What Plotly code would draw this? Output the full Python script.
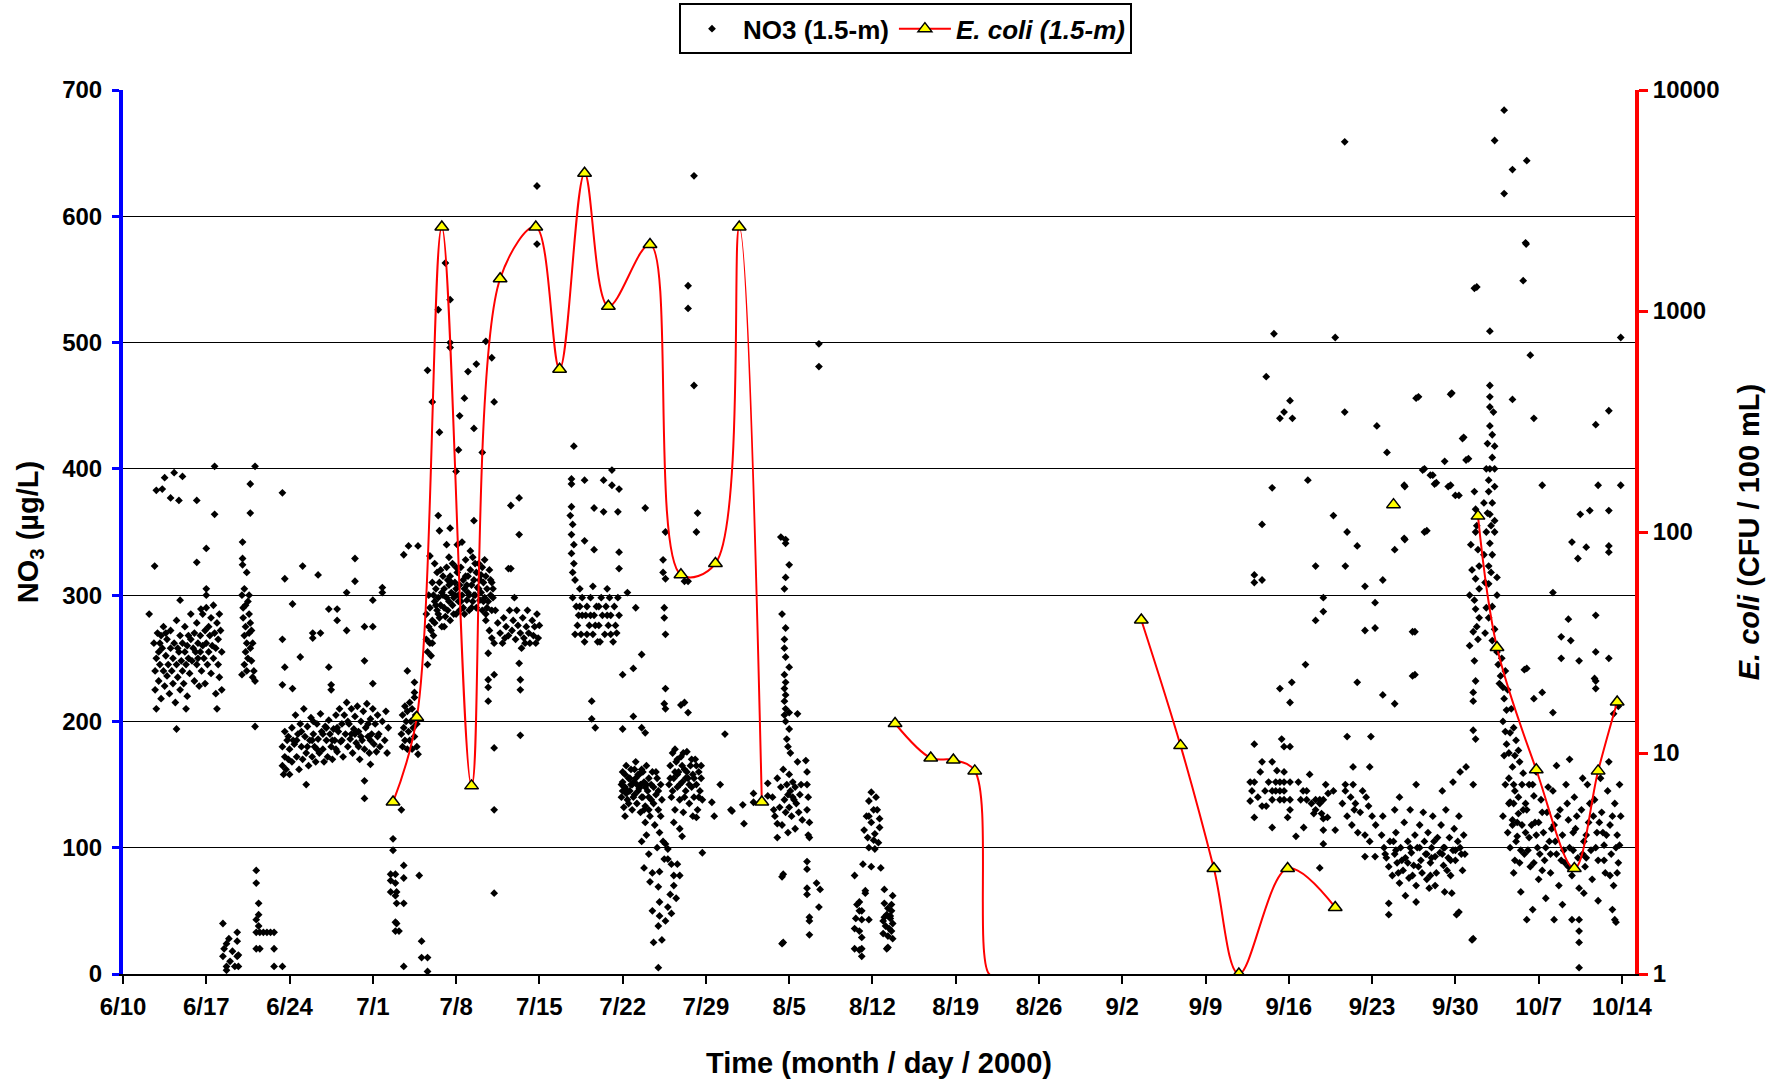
import plotly.graph_objects as go

# ---------------- DATA ----------------
# x = days since 6/10/2000, y = NO3 (ug/L)
tick_days = [0, 7, 14, 21, 28, 35, 42, 49, 56, 63, 70, 77, 84, 91, 98, 105, 112, 119, 126]
tick_labels = ["6/10", "6/17", "6/24", "7/1", "7/8", "7/15", "7/22", "7/29", "8/5", "8/12",
               "8/19", "8/26", "9/2", "9/9", "9/16", "9/23", "9/30", "10/7", "10/14"]

no3_june = [
    (2.6,262),(2.7,240),(2.7,225),(2.8,250),(2.8,210),(2.9,270),(3.0,255),(3.0,232),(3.1,245),(3.2,268),
    (3.2,218),(3.3,258),(3.4,240),(3.4,275),(3.5,228),(3.6,252),(3.7,265),(3.7,236),(3.8,245),(3.9,222),
    (4.0,258),(4.0,272),(4.1,240),(4.2,230),(4.2,250),(4.3,262),(4.4,215),(4.5,245),(4.5,280),(4.6,235),
    (4.7,255),(4.8,268),(4.8,225),(4.9,248),(5.0,240),(5.0,262),(5.1,230),(5.2,255),(5.2,275),(5.3,245),
    (5.4,220),(5.4,260),(5.5,250),(5.6,238),(5.7,265),(5.7,285),(5.8,248),(5.9,258),(6.0,270),(6.0,232),
    (6.1,255),(6.2,245),(6.2,278),(6.3,262),(6.4,228),(6.5,255),(6.5,268),(6.6,240),(6.7,285),(6.7,260),
    (6.8,250),(6.9,272),(6.9,230),(7.0,262),(7.0,290),(7.1,245),(7.2,275),(7.2,255),(7.3,268),(7.4,238),
    (7.4,282),(7.5,260),(7.6,250),(7.6,292),(7.7,270),(7.8,222),(7.8,258),(7.9,278),(8.0,245),(8.0,265),
    (8.1,285),(8.1,235),(8.2,272),(8.3,255),(8.3,225),(3.1,262),(3.6,270),(4.6,258),(5.5,268),(6.3,250),
    (2.2,285),(4.5,194),(5.3,210),(7.9,210),(4.8,296),(7.0,305),(7.0,300),(6.55,289),
    (2.66,323),(2.8,383),(3.3,384),(3.5,393),(4.0,377),(4.3,397),(4.7,375),(5.0,394),(6.2,375),
    (6.2,326),(7.0,337),(7.7,402),(7.7,364),
    # 6/20 column
    (10.0,300),(10.1,290),(10.2,305),(10.1,282),(10.3,275),(10.2,268),(10.4,262),(10.3,255),(10.5,250),
    (10.2,245),(10.4,240),(10.6,285),(10.6,270),(10.7,258),(10.5,295),(10.8,248),(10.9,262),(10.7,278),
    (11.0,240),(10.9,235),(11.1,232),(10.0,237),(11.1,196),(10.3,292),(10.6,300),(10.8,272),
    (10.7,388),(11.1,402),(10.7,365),(10.05,342),(10.05,329),(10.05,324),(10.4,318),
    # lows
    (8.4,40),(9.6,33),(8.7,24),(9.6,26),(8.5,20),(9.2,18),(8.4,14),(9.6,14),(8.7,6),(9.4,6),(9.7,6),
    (8.7,3),(9.7,15),(8.9,28),(9.0,10),
    (11.2,82),(11.2,72),(11.4,56),(11.4,47),(11.2,43),(11.4,38),(11.2,33),(11.5,33),(11.8,33),(12.1,33),
    (12.4,33),(12.7,33),(11.2,20),(11.5,20),(12.7,20),(12.7,6),(13.4,6),
]

no3_late_june = [
    (13.4,165),(13.4,180),(13.5,158),(13.6,172),(13.6,192),(13.7,162),(13.8,185),(13.9,170),(14.0,158),
    (14.0,178),(14.2,195),(14.2,168),(14.4,182),(14.5,205),(14.6,172),(14.7,190),(14.8,162),(14.9,198),
    (15.0,180),(15.1,170),(15.2,210),(15.3,188),(15.4,175),(15.5,196),(15.6,165),(15.7,185),(15.8,203),
    (15.9,172),(16.0,190),(16.1,180),(16.2,168),(16.3,198),(16.4,186),(16.5,175),(16.6,206),(16.7,192),
    (16.8,178),(16.9,168),(17.0,196),(17.1,185),(17.2,172),(17.3,201),(17.4,190),(17.5,180),(17.6,170),
    (17.7,194),(17.8,185),(17.9,205),(18.0,176),(18.1,192),(18.2,210),(18.3,184),(18.4,198),(18.5,172),
    (18.6,205),(18.7,190),(18.8,215),(18.9,180),(19.0,198),(19.1,186),(19.2,210),(19.3,175),(19.4,194),
    (19.5,204),(19.6,183),(19.7,212),(19.8,192),(19.9,170),(20.0,200),(20.1,185),(20.2,208),(20.3,178),
    (20.4,195),(20.5,214),(20.6,188),(20.7,175),(20.8,202),(20.9,190),(21.0,210),(21.1,182),(21.2,198),
    (21.3,176),(21.4,205),(21.5,190),(21.6,180),(21.8,200),(22.0,185),(22.1,208),(22.2,175),(22.3,195),
    (14.3,185),(15.0,192),(15.9,185),(16.8,190),(17.6,185),(18.4,185),(19.2,190),(20.0,188),(20.8,185),
    (14.6,185),(15.5,180),(16.3,178),(17.1,195),(18.0,195),(18.9,200),(19.8,180),(20.6,198),(21.4,188),
    (13.9,188),(16.0,200),(17.9,178),(19.5,190),
    (15.4,150),(20.3,139),(20.3,153),(20.8,166),(13.4,381),(13.6,313),(13.4,265),(14.25,293),(15.1,323),
    (16.4,316),(14.9,251),(13.6,243),(13.4,229),(14.25,226),(15.95,270),(15.95,266),(16.6,270),(17.3,289),
    (18.0,289),(18.0,280),(18.8,302),(19.5,329),(19.5,311),(18.8,272),(17.3,243),(17.5,229),(17.5,225),
    (20.3,275),(21.0,275),(21.0,296),(20.3,248),(21.0,230),(21.8,306),(21.8,302),
]

no3_early_july = [
    (23.4,190),(23.5,205),(23.5,180),(23.6,195),(23.7,212),(23.7,185),(23.8,200),(23.9,178),(23.9,208),
    (24.0,192),(24.1,215),(24.1,185),(24.2,200),(24.3,178),(24.3,210),(24.4,195),(24.5,188),(24.6,205),
    (24.7,180),(24.7,198),(23.9,240),(24.5,231),(24.5,223),(24.5,219),(24.8,174),(23.6,332),(24.0,339),
    (24.8,339),
    (22.7,107),(22.7,98),(22.5,79),(22.9,79),(22.5,74),(22.9,72),(23.0,65),(22.5,65),(22.9,62),(23.0,56),
    (23.6,86),(23.6,76),(23.6,56),(22.9,41),(23.0,40),(22.9,34),(23.2,34),(23.6,6),(24.9,78),(25.1,26),
    (25.1,13),(25.6,13),(25.6,2),
    # 7/5 - 7/9 cluster
    (25.5,265),(25.5,285),(25.6,255),(25.7,275),(25.7,300),(25.8,262),(25.8,290),(25.9,252),(26.0,280),
    (26.0,310),(26.1,268),(26.2,295),(26.2,278),(26.3,305),(26.4,288),(26.4,318),(26.5,298),(26.6,282),
    (26.6,310),(26.7,292),(26.8,302),(26.8,275),(26.9,315),(27.0,290),(27.0,305),(27.1,283),(27.2,298),
    (27.2,322),(27.3,288),(27.4,308),(27.4,295),(27.5,280),(27.5,315),(27.6,302),(27.7,292),(27.7,325),
    (27.8,298),(27.9,310),(28.0,285),(28.0,305),(28.1,318),(28.2,295),(28.3,308),(28.3,288),(28.4,322),
    (28.5,300),(28.6,312),(28.6,290),(28.7,305),(28.8,328),(28.9,296),(29.0,315),(29.0,302),(29.1,288),
    (29.2,320),(29.3,308),(29.4,295),(29.4,330),(29.5,312),(29.6,300),(29.7,318),(29.7,290),(29.8,306),
    (29.9,325),(30.0,296),(30.0,312),(30.1,302),(30.2,288),(30.2,322),(30.3,310),(30.4,298),(30.5,315),
    (30.5,285),(30.6,305),(30.7,295),(30.8,320),(30.9,300),(31.0,310),(31.0,288),(31.1,298),
    (26.3,292),(26.9,300),(27.6,310),(28.2,300),(28.9,308),(29.5,300),(30.1,316),(26.0,262),(25.6,245),
    (25.9,272),(26.1,300),(26.5,285),(26.7,320),(27.0,275),(27.3,312),(27.8,285),(28.0,322),(28.4,295),
    (28.7,285),(29.1,300),(29.3,290),(29.6,325),(29.9,305),(30.3,295),(30.6,290),(30.9,312),(31.1,305),
    (27.9,300),(28.8,315),(26.2,325),(29.2,335),(28.1,340),(27.4,330),(30.4,328),
    (25.8,331),(25.6,478),(26.0,453),(26.5,526),(26.6,429),(27.1,563),(27.5,534),(27.5,500),(27.5,496),
    (28.2,415),(28.0,398),(28.3,442),(28.7,456),(29.0,477),(29.7,483),(30.5,501),(29.5,432),(30.2,413),
    (31.0,488),(31.2,453),(26.5,363),(26.6,351),(27.5,353),(27.2,340),(29.5,359),(28.5,342),(32.6,371),
    (33.3,377),(33.3,348),(32.6,321),(32.9,298),(32.4,321),
    # 7/10 - 7/14 rows
    (30.5,280),(30.8,272),(31.0,266),(31.3,288),(31.5,278),(31.7,270),(31.9,262),(32.0,282),(32.2,275),
    (32.4,268),(32.5,288),(32.7,272),(32.8,280),(33.0,265),(33.1,288),(33.2,276),(33.4,270),(33.5,258),
    (33.6,282),(33.7,266),(33.9,275),(34.0,288),(34.1,270),(34.2,262),(34.4,280),(34.5,268),(34.6,275),
    (34.8,285),(34.9,266),(35.0,276),(31.2,262),(32.1,266),(33.8,262),(34.7,262),
    (33.3,246),(33.4,233),(33.4,225),(33.4,189),(30.7,254),(30.7,233),(30.7,227),(30.7,216),(31.2,237),
    (31.2,179),(31.2,130),(31.2,64),(23.4,130),(34.8,624),(34.8,578),
]

no3_late_july = [
    (37.6,363),(37.8,356),(37.7,348),(37.9,340),(37.7,333),(37.9,325),(37.8,318),(38.0,312),
    (37.9,418),(37.7,392),(37.7,388),(38.8,391),(40.4,391),(41.1,399),(41.1,387),(41.7,384),(37.7,370),
    (39.6,369),(40.4,366),(41.6,366),(43.9,369),(41.7,334),(41.7,321),(42.4,302),(43.1,290),(39.6,336),
    (38.8,343),
    (37.8,298),(38.1,291),(38.3,284),(38.2,276),(38.5,269),(38.6,298),(38.8,263),(38.9,284),(39.0,291),
    (39.2,276),(39.3,298),(39.5,269),(39.6,284),(39.8,291),(39.9,263),(40.0,276),(40.2,298),(40.3,284),
    (40.5,269),(40.6,291),(40.8,276),(40.9,298),(41.0,284),(41.2,263),(41.3,291),(41.4,276),(41.6,298),
    (41.7,284),(38.0,269),(39.0,269),(40.1,263),(41.0,269),(38.4,305),(39.5,307),(40.7,305),(41.5,270),
    (38.6,284),(39.3,284),(40.0,291),(40.7,284),(38.4,291),(39.7,276),
    (39.4,216),(39.4,202),(39.7,195),(42.0,237),(42.9,204),(43.6,253),(43.6,195),(43.9,191),(42.0,194),
    (42.9,242),(45.5,290),(45.5,282),(45.6,269),(45.6,226),(45.5,214),(45.6,210),(47.5,311),(47.2,311),
    (46.9,213),(47.2,215),(47.5,207),(48.3,365),(48.2,350),(45.6,350),(45.4,328),(45.4,318),(45.6,313),
    (48.0,632),(47.5,545),(47.5,527),(48.0,466),
    # 7/22 - 7/25 cluster
    (41.9,150),(41.9,140),(42.0,160),(42.1,132),(42.2,148),(42.3,165),(42.4,138),(42.5,155),(42.6,145),
    (42.7,162),(42.8,130),(42.9,152),(43.0,142),(43.1,168),(43.2,135),(43.3,158),(43.4,147),(43.5,128),
    (43.6,162),(43.7,140),(43.8,152),(43.9,133),(44.0,165),(44.1,145),(44.2,155),(44.3,125),(44.4,138),
    (44.5,160),(44.6,148),(44.7,118),(44.8,142),(44.9,155),(45.0,130),(45.1,112),(45.2,150),(45.3,138),
    (45.4,105),(42.6,155),(43.2,150),(43.9,148),(42.3,143),(43.6,140),(42.0,145),(42.8,150),(43.4,158),
    (44.2,140),
    (42.0,152),(42.2,158),(42.4,145),(42.5,135),(42.7,150),(42.9,140),(43.1,155),(43.3,145),(43.5,150),
    (43.7,160),(43.8,130),(44.0,150),(44.2,130),(44.4,150),(44.6,135),(44.8,160),(45.0,145),(45.2,125),
    (43.0,162),(42.2,125),
    (43.8,84),(44.5,80),(45.1,81),(44.3,73),(45.0,69),(45.1,57),(44.5,50),(45.1,46),(45.0,38),(44.6,25),
    (45.3,27),(45.0,5),(45.6,103),(45.8,99),(45.5,91),(45.8,91),(46.1,87),(46.6,87),(46.3,78),(46.8,78),
    (46.3,70),(46.0,63),(45.8,53),(45.6,42),(46.1,48),(46.8,115),(47.0,109),(44.2,95),(44.9,100),
    (46.5,60),(44.0,110),(43.9,120),(43.6,105),
    # 7/26 - 7/29 cluster
    (45.9,150),(46.0,165),(46.1,140),(46.2,175),(46.3,155),(46.4,130),(46.5,168),(46.6,148),(46.7,160),
    (46.8,138),(46.9,172),(47.0,152),(47.1,128),(47.2,162),(47.3,145),(47.4,176),(47.5,155),(47.6,135),
    (47.7,165),(47.8,148),(47.9,158),(48.0,140),(48.1,170),(48.2,150),(48.3,130),(48.4,160),(48.5,145),
    (48.6,155),(48.7,138),(46.4,178),(47.9,125),(48.2,124),(46.6,158),(47.3,155),
    (46.0,155),(46.2,145),(46.4,160),(46.6,170),(46.8,150),(47.0,165),(47.2,140),(47.4,160),(47.6,150),
    (47.8,170),(48.0,155),(48.2,165),(48.4,140),(48.6,165),(47.1,175),(46.3,120),
    (49.5,136),(49.7,125),(50.2,150),(51.1,130),(51.2,129),(52.1,134),(52.2,119),(53.0,143),(53.0,136),
    (54.2,151),(54.2,141),(54.7,130),(55.0,119),(55.0,108),(48.7,96),(50.6,190),(55.4,77),(55.4,24),
]

no3_aug = [
    (54.6,140),(54.8,125),(55.0,155),(55.2,132),(55.3,148),(55.4,118),(55.5,162),(55.6,138),(55.7,128),
    (55.8,150),(55.9,142),(56.0,158),(56.0,132),(56.1,145),(56.2,125),(56.3,152),(56.4,138),(56.5,148),
    (56.5,115),(56.6,135),(56.7,168),(56.8,128),(56.9,142),(57.0,150),(57.1,122),(57.4,169),(57.5,160),
    (57.5,150),(57.6,140),(57.5,130),(57.7,120),(57.6,110),(57.7,108),(56.1,175),(55.9,112),(56.3,140),
    (55.3,346),(55.7,344),(55.7,341),(56.0,324),(55.7,314),(55.6,305),(55.4,285),(55.7,274),(55.6,265),
    (55.6,258),(55.7,251),(56.0,243),(55.6,237),(55.7,231),(55.6,226),(55.7,221),(55.6,216),(55.7,210),
    (56.0,207),(55.6,205),(55.7,200),(56.0,194),(56.7,206),(55.8,186),(55.9,180),
    (57.5,89),(57.5,83),(57.5,68),(57.5,63),(57.7,45),(57.7,42),(57.7,31),(58.3,72),(58.6,67),(58.5,53),
    (55.5,79),(55.5,25),(58.5,499),(58.5,481),
    (62.9,144),(62.7,137),(63.1,130),(62.7,125),(63.4,130),(63.6,123),(63.6,116),(63.2,111),(63.1,106),
    (62.7,100),(63.2,99),(62.5,125),(62.3,114),(62.9,120),(63.3,140),(62.6,108),(63.5,104),(62.2,87),
    (62.9,85),(63.7,84),
    (61.5,78),(62.4,66),(62.4,64),(61.9,57),(62.1,50),(61.9,50),(62.1,43),(61.5,36),(61.9,34),(62.7,43),
    (62.1,29),(61.5,20),(62.1,20),(61.9,19),(62.1,14),(61.7,55),(61.6,44),
    (64.0,67),(64.7,62),(64.0,56),(64.3,52),(64.6,50),(64.2,47),(64.5,44),(63.9,42),(64.7,40),(64.1,38),
    (64.4,36),(64.6,34),(63.9,32),(64.3,30),(64.7,28),(64.2,20),(64.3,21),(64.5,46),(64.0,45),(64.6,55),
]

no3_sep = [
    (96.75,507),(101.9,504),(96.1,473),(97.6,445),(97.25,440),(98.1,454),(98.3,440),(102.7,445),(105.4,434),
    (106.25,413),(108.7,456),(111.6,459),(112.6,424),(112.9,407),(109.25,399),(109.9,395),(110.25,388),
    (111.4,386),(112.0,379),(107.75,386),(96.6,385),(99.6,391),(101.75,363),(95.75,356),(102.9,350),
    (103.75,339),(109.4,350),(107.75,344),(106.9,336),(105.9,312),(104.4,307),(102.75,323),(100.25,323),
    (95.1,316),(95.1,310),(95.75,312),(100.9,298),(100.9,287),(100.25,280),(105.25,294),(104.4,272),
    (105.25,274),(108.4,271),(99.4,245),(108.4,236),(103.75,231),(97.25,226),(98.25,231),(98.1,215),
    (105.9,221),(106.9,214),(102.7,659),(113.6,543),
    (94.75,152),(95.1,152),(95.1,182),(95.75,168),(95.6,160),(94.75,137),(95.75,133),(96.1,133),(95.1,124),
    (96.6,116),(96.3,152),(96.6,145),(96.9,152),(97.25,152),(97.6,152),(98.1,152),(96.6,138),(97.25,138),
    (97.6,138),(98.1,138),(96.6,168),(97.0,161),(97.6,160),(97.4,186),(97.6,180),(98.1,180),(96.9,145),
    (97.6,145),(98.1,130),(97.9,124),(98.6,109),(99.25,116),(94.9,145),(95.4,140),(96.0,145),(97.25,145),
    (99.75,158),(98.8,152),(99.2,145),(99.5,145),(99.0,138),(99.5,138),(99.9,135),(100.25,138),(100.6,138),
    (100.9,138),(101.3,143),(101.1,150),(100.6,135),(100.25,130),(100.1,127),(100.75,127),(100.9,123),
    (101.25,124),(100.9,114),(100.9,103),(101.75,145),(101.9,114),(100.6,84),
    (102.9,188),(104.9,188),(103.4,164),(104.8,164),(102.75,150),(103.4,150),(102.75,145),(103.2,140),
    (103.6,135),(104.0,128),(102.9,125),(103.3,118),(104.2,145),(104.5,140),(104.7,133),(105.0,125),
    (105.3,118),(104.4,110),(104.8,105),(103.8,112),(104.4,93),(105.25,93),(103.5,130),(102.5,135),
    (105.8,110),(106.0,100),(106.2,92),(106.4,85),(106.5,105),(106.7,78),(106.9,95),(107.0,112),(107.1,88),
    (107.3,72),(107.4,100),(107.6,82),(107.7,120),(107.8,92),(108.0,105),(108.1,76),(108.2,130),(108.3,96),
    (108.5,86),(108.6,110),(108.7,70),(108.8,100),(109.0,118),(109.1,90),(109.2,80),(109.4,105),(109.5,95),
    (109.6,75),(109.7,112),(109.9,88),(110.0,100),(110.1,125),(110.3,93),(110.4,80),(110.5,108),(110.7,96),
    (110.8,118),(111.0,86),(111.1,100),(111.2,130),(111.4,92),(111.5,108),(111.6,78),(111.8,98),
    (111.9,115),(112.0,90),(112.2,105),(112.3,125),(112.5,95),(112.6,82),(112.7,110),(106.4,56),(106.4,47),
    (108.7,57),(112.1,47),(113.4,27),(107.3,140),(108.7,150),(109.3,128),(110.9,145),(111.8,152),
    (112.4,160),(112.9,164),(106.9,130),(105.9,125),(111.1,65),(110.3,70),(107.8,62),(109.8,68),
    (112.3,49),(111.7,64),(107.0,98),(108.0,88),(109.0,100),(110.0,92),(111.0,100),(112.0,98),
    (106.1,95),(106.8,105),(107.5,90),(108.2,100),(108.9,85),(109.6,95),(110.2,105),(110.9,95),
    (111.6,90),(112.4,100),(107.2,80),(108.4,78),(109.9,78),(111.3,82),(112.8,95),
]

no3_oct = [
    (113.6,382),(113.7,368),(113.8,355),(113.7,350),(113.9,336),(114.0,323),(113.7,313),(114.0,305),
    (113.7,289),(114.0,282),(113.5,271),(113.9,265),(113.7,232),(113.5,223),(113.5,216),(113.5,193),
    (113.7,186),(113.5,150),(113.5,28),(113.2,300),(113.4,320),(113.3,340),(113.6,296),(113.8,275),
    (113.6,248),(113.2,260),
    (114.9,466),(114.9,457),(114.9,449),(114.9,434),(115.1,427),(115.3,418),(115.1,409),(114.9,400),
    (115.3,400),(114.8,391),(115.3,386),(114.8,382),(115.1,373),(114.4,373),(114.9,364),(115.3,359),
    (114.6,350),(115.3,350),(114.9,341),(114.4,332),(115.1,332),(114.8,323),(115.5,314),(114.8,309),
    (115.5,300),(115.1,291),(114.8,282),(115.3,273),(115.1,264),(115.5,255),(114.6,290),(114.5,310),
    (115.0,355),(114.6,400),(115.2,445),(114.7,420),(114.9,509),(114.5,270),(115.0,318),(114.7,365),
    (115.6,245),(115.8,236),(116.0,227),(116.1,218),(116.3,209),(116.0,200),(116.6,191),(116.3,182),
    (116.1,173),(116.8,164),(116.5,155),(117.0,145),(116.6,136),(117.3,127),(116.8,118),(117.2,109),
    (117.5,98),(117.0,173),(117.3,177),(117.7,159),(118.2,150),(118.6,141),(115.9,250),(116.2,240),
    (116.4,225),(116.7,210),(116.9,195),(117.1,185),(117.4,168),(117.6,150),(117.9,135),(115.7,230),
    (116.5,175),(116.2,192),(116.9,150),
    (116.2,150),(116.5,135),(116.8,122),(117.1,105),(117.3,140),(117.6,118),(117.8,95),(118.0,130),
    (118.2,108),(118.3,85),(118.5,150),(118.7,120),(118.9,100),(119.0,75),(119.2,138),(119.4,112),
    (119.5,90),(119.7,128),(119.9,105),(120.0,80),(120.2,145),(120.3,118),(120.5,95),(120.7,70),
    (120.8,130),(121.0,110),(121.2,88),(121.3,150),(121.5,122),(121.6,100),(121.8,78),(122.0,140),
    (122.1,115),(122.3,92),(122.4,68),(122.6,130),(122.8,105),(122.9,85),(123.1,150),(123.2,120),
    (123.4,98),(123.5,75),(123.7,138),(123.9,112),(124.0,90),(124.2,155),(124.3,128),(124.5,102),
    (124.6,80),(124.8,145),(125.0,118),(125.1,95),(125.3,70),(125.4,135),(125.6,110),(125.7,88),
    (125.9,125),(116.6,100),(117.9,112),(119.1,95),(120.4,105),(121.9,98),(123.0,110),(124.4,112),
    (125.5,100),(118.0,43),(120.3,43),(122.4,43),(122.4,34),(122.4,25),(122.4,5),(121.8,43),(125.4,43),
    (125.5,41),(125.2,51),(118.5,51),(122.8,64),(119.6,60),(121.0,55),(124.0,58),(117.5,65),
    (118.8,160),(121.6,170),(124.9,168),(120.5,165),(116.9,80),(122.7,155),(125.8,150),(119.8,148),
    (116.0,125),(119.0,120),(120.9,90),(123.6,125),(125.0,78),(117.4,88),(119.3,82),
    (116.4,112),(116.9,135),(117.2,120),(117.7,130),(118.1,98),(118.4,118),(118.8,110),(119.3,128),
    (119.6,100),(120.1,115),(120.6,125),(121.1,98),(121.4,135),(121.9,112),(122.2,125),(122.7,95),
    (123.3,135),(123.8,100),(124.1,120),(124.7,110),(125.2,125),(125.8,102),(117.0,90),(118.6,88),
    (120.0,95),(121.5,85),(123.0,92),(124.5,90),(125.6,80),
    (116.1,684),(115.3,660),(116.8,637),(118.0,644),(116.1,618),(117.9,579),(117.95,578),(117.7,549),
    (113.8,544),(125.9,504),(118.3,490),(108.9,457),(111.7,460),(116.8,455),(118.6,440),(123.8,435),
    (124.9,446),(112.7,425),(113.1,408),(111.1,406),(109.4,400),(110.1,395),(110.4,389),(111.6,387),
    (112.3,379),(107.7,387),(119.3,387),(124.0,387),(125.9,387),(122.5,364),(123.3,367),(124.9,367),
    (121.8,342),(123.0,338),(122.3,329),(124.9,339),(124.9,334),(107.7,345),(109.6,351),(120.2,302),
    (121.5,281),(123.8,284),(120.9,267),(121.7,264),(120.9,250),(122.4,248),(123.8,255),(124.9,250),
    (117.8,241),(118.0,242),(108.6,271),(108.6,237),(118.6,218),(119.3,223),(120.2,207),(123.7,234),
    (123.8,232),(123.8,226),(125.3,206),(125.5,215),(125.7,212),
]

# E. coli (CFU/100 mL) sample days and values
ecoli_day = [22.7, 24.7, 26.8, 29.3, 31.7, 34.7, 36.7, 38.8, 40.8, 44.3, 46.9, 49.8, 51.8, 53.7,
             64.9, 67.9, 69.8, 71.6,
             85.6, 88.9, 91.7, 93.8, 97.9, 101.9,
             106.8,
             113.9, 115.5, 118.8, 122.0, 124.0, 125.6]
ecoli_val = [6.0, 14.5, 2400, 7.1, 1400, 2400, 545, 4200, 1050, 2000, 64, 72, 2400, 6.0,
             13.6, 9.5, 9.3, 8.3,
             40, 10.8, 3.0, 1.0, 3.0, 2.0,
             133,
             118, 30, 8.4, 3.0, 8.3, 17]
# connected runs of samples (index ranges) and the unmarked end of the August run
ecoli_runs = [(0, 14), (14, 18), (18, 24), (25, 31)]
aug_tail_day = [72.8, 73.8]
aug_tail_val = [1.0, 0.97]

# ---------------- BUILD ----------------
all_no3 = no3_june + no3_late_june + no3_early_july + no3_late_july + no3_aug + no3_sep + no3_oct
no3_x = [p[0] for p in all_no3]
no3_y = [p[1] for p in all_no3]

line_x, line_y = [], []
for i, (a, b) in enumerate(ecoli_runs):
    line_x += ecoli_day[a:b]
    line_y += ecoli_val[a:b]
    if i == 1:
        line_x += aug_tail_day
        line_y += aug_tail_val
    line_x.append(None)
    line_y.append(None)

FONT = "Liberation Sans"
TRI = dict(symbol="triangle-up", size=12, color="#FFFF00", line=dict(color="black", width=1.5))
fig = go.Figure()

fig.add_trace(go.Scatter(
    x=no3_x, y=no3_y, mode="markers", name="<b>NO3 (1.5-m)</b>",
    marker=dict(symbol="diamond", size=6, color="black", line=dict(width=0)),
    yaxis="y"))

fig.add_trace(go.Scatter(
    x=line_x, y=line_y, mode="lines", showlegend=False,
    line=dict(color="#FF0000", width=2, shape="spline", smoothing=1.0),
    connectgaps=False, yaxis="y2"))

fig.add_trace(go.Scatter(
    x=ecoli_day, y=ecoli_val, mode="markers", showlegend=False,
    marker=TRI, yaxis="y2"))

fig.add_trace(go.Scatter(
    x=[None], y=[None], mode="lines+markers", name="<b><i>E. coli (1.5-m)</i></b>",
    line=dict(color="#FF0000", width=2), marker=TRI, yaxis="y2"))

fig.update_layout(
    width=1786, height=1083,
    margin=dict(l=123, r=151, t=90, b=109, autoexpand=False),
    paper_bgcolor="white", plot_bgcolor="white",
    font=dict(family=FONT, color="black"),
    legend=dict(orientation="h", xref="container", yref="container",
                x=0.507, xanchor="center", y=0.997, yanchor="top",
                bordercolor="black", borderwidth=2, bgcolor="white",
                font=dict(family=FONT, size=26, color="black"), itemwidth=52),
    xaxis=dict(range=[0, 127.1], tickvals=tick_days, ticktext=tick_labels,
               ticks="outside", ticklen=8, tickwidth=2, tickcolor="black",
               showline=True, linecolor="black", linewidth=2, showgrid=False, zeroline=False,
               ticklabelstandoff=2,
               tickfont=dict(family=FONT, size=24, color="black", weight="bold"),
               title=dict(text="Time (month / day / 2000)", standoff=34,
                          font=dict(family=FONT, size=29, color="black", weight="bold"))),
    yaxis=dict(range=[0, 700], tickvals=[0, 100, 200, 300, 400, 500, 600, 700],
               ticks="outside", ticklen=7, tickwidth=3, tickcolor="#0000FF",
               showline=True, linecolor="#0000FF", linewidth=4,
               showgrid=True, gridcolor="black", gridwidth=1, zeroline=False,
               ticklabelstandoff=5,
               tickfont=dict(family=FONT, size=24, color="black", weight="bold"),
               title=dict(text="NO<sub>3</sub> (µg/L)", standoff=16,
                          font=dict(family=FONT, size=29, color="black", weight="bold"))),
    yaxis2=dict(type="log", range=[0, 4], overlaying="y", side="right",
                tickvals=[1, 10, 100, 1000, 10000], ticktext=["1", "10", "100", "1000", "10000"],
                ticks="outside", ticklen=9, tickwidth=3, tickcolor="#FF0000",
                showline=True, linecolor="#FF0000", linewidth=4, showgrid=False, zeroline=False,
                tickfont=dict(family=FONT, size=24, color="black", weight="bold"),
                title=dict(text="<i>E. coli</i> (CFU / 100 mL)", standoff=21,
                           font=dict(family=FONT, size=29, color="black", weight="bold"))),
)

fig.write_html("out.html")
